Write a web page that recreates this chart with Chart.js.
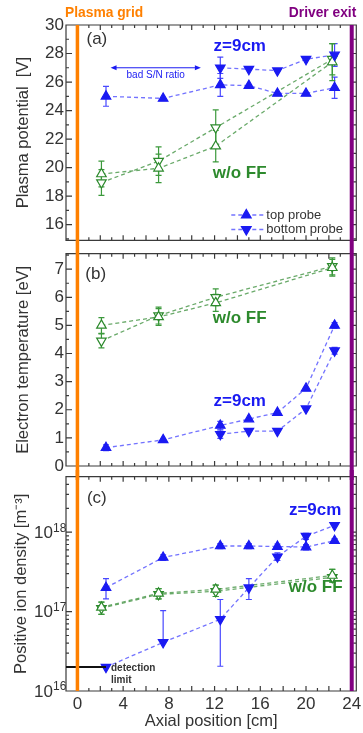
<!DOCTYPE html>
<html>
<head>
<meta charset="utf-8">
<script src="https://cdn.jsdelivr.net/npm/chart.js@4.4.1/dist/chart.umd.min.js"></script>
<style>
html,body{margin:0;padding:0;background:#fff;}
#wrap{position:relative;width:363px;height:733px;overflow:hidden;}
#wrap canvas{position:absolute;left:0;}
</style>
</head>
<body>
<div id="wrap">
  <canvas id="pa" width="363" height="247" style="top:0;width:363px;height:247px"></canvas>
  <canvas id="pb" width="363" height="233" style="top:247px;width:363px;height:233px"></canvas>
  <canvas id="pc" width="363" height="263" style="top:470px;width:363px;height:263px"></canvas>
</div>
<script>
'use strict';
// axial positions [cm]
const xProbe=[2.5,7.5,12.5,15,17.5,20,22.5];
const xProbeBottom=[12.5,15,17.5,20,22.5];
const xNoFF=[2.1,7.1,12.1,22.3];
const xTicks=[0,4,8,12,16,20,24];

// (a) plasma potential [V]
const potTop=[25.0,24.85,25.8,25.75,25.2,25.2,25.6];
const potTopErr=[0.7,0,0.8,0,0,0,0.75];
const potBottom=[27.0,26.9,26.8,27.6,27.9];
const potBottomErr=[0.75,0,0,0,0.8];
const potNoFFTop=[19.55,19.95,21.5,27.4];
const potNoFFTopErr=[0.9,1.0,1.1,1.3];
const potNoFFBottom=[18.95,20.45,22.8,27.6];
const potNoFFBottomErr=[0.9,1.0,1.25,1.1];
const potTicks=[16,18,20,22,24,26,28,30];

// (b) electron temperature [eV]
const teTop=[0.65,0.93,1.44,1.67,1.9,2.76,5.0];
const teTopErr=[0.1,0,0.15,0,0,0,0.1];
const teBottom=[1.13,1.24,1.24,2.04,4.1];
const teBottomErr=[0.15,0,0,0,0.12];
const teNoFFTop=[5.0,5.3,5.8,7.05];
const teNoFFTopErr=[0.28,0.3,0.3,0.3];
const teNoFFBottom=[4.45,5.35,6.0,7.1];
const teNoFFBottomErr=[0.25,0.3,0.3,0.3];
const teTicks=[0,1,2,3,4,5,6,7];

// (c) positive ion density [m^-3]
const niTop=[2.0e17,4.8e17,6.7e17,6.7e17,6.6e17,6.5e17,7.8e17];
const niTopLo=[1.45e17,4.4e17,6.2e17,6.2e17,6.1e17,6.0e17,7.3e17];
const niTopHi=[2.6e17,5.2e17,7.2e17,7.2e17,7.1e17,7.0e17,8.3e17];
const niBottom=[2.0e16,4.1e16,8.0e16,2.0e17,4.9e17,8.9e17,1.22e18];
const niBottomLo=[2.0e16,4.1e16,2.05e16,1.42e17,4.4e17,8.1e17,1.22e18];
const niBottomHi=[2.0e16,1.03e17,1.42e17,2.6e17,5.5e17,9.7e17,1.22e18];
const niNoFFTop=[1.13e17,1.7e17,1.9e17,2.85e17];
const niNoFFBottom=[1.1e17,1.65e17,1.8e17,2.7e17];
const niNoFFLo=[0.92e17,1.45e17,1.55e17,2.35e17];
const niNoFFHi=[1.32e17,1.95e17,2.15e17,3.4e17];
const niDecades=[16,17,18];
const detectionLimit=2e16;

const FONT='"Liberation Sans", Arial, sans-serif';
const INK='#333';
const BLUE='#1a1af2',GREEN='#2d8a2d',ORANGE='#ff8000',PURPLE='#800080';
const STY={
  blueUp:{line:'rgba(90,90,255,0.85)',fill:BLUE,stroke:BLUE,rot:0,err:'#4848ff'},
  blueDown:{line:'rgba(90,90,255,0.85)',fill:BLUE,stroke:BLUE,rot:180,err:'#4848ff'},
  greenUp:{line:'rgba(80,155,80,0.85)',fill:'#fff',stroke:GREEN,rot:0,err:'#3c9a3c'},
  greenDown:{line:'rgba(80,155,80,0.85)',fill:'#fff',stroke:GREEN,rot:180,err:'#3c9a3c'},
};
Chart.defaults.font.family=FONT;

function series(kind,xs,ys,lo,hi){
  const s=STY[kind];
  return {data:xs.map((x,i)=>({x,y:ys[i]})),showLine:true,borderColor:s.line,borderWidth:1.3,borderDash:[4,3],
    pointStyle:'triangle',pointRotation:s.rot,pointRadius:5.5,pointBackgroundColor:s.fill,pointBorderColor:s.stroke,
    pointBorderWidth:1.2,errLo:lo,errHi:hi,errColor:s.err};
}
const sym=(kind,xs,ys,err)=>series(kind,xs,ys,ys.map((v,i)=>v-err[i]),ys.map((v,i)=>v+err[i]));

function txt(ctx,s,x,y,font,color,align){
  ctx.save();ctx.font=font;ctx.fillStyle=color;ctx.textAlign=align||'center';ctx.textBaseline='middle';
  ctx.fillText(s,x,y);ctx.restore();
}
const isDecade=v=>Math.abs(Math.log10(v)-Math.round(Math.log10(v)))<1e-9;

const framePlugin={id:'frame',
  // error bars under the markers
  beforeDatasetsDraw(chart){
    const {ctx,scales:{x,y}}=chart;
    ctx.save();
    chart.data.datasets.forEach(ds=>{
      if(!ds.errLo)return;
      ctx.strokeStyle=ds.errColor;ctx.lineWidth=1.2;ctx.beginPath();
      ds.data.forEach((p,i)=>{
        const lo=ds.errLo[i],hi=ds.errHi[i];
        if(lo==null||lo===hi)return;
        const px=x.getPixelForValue(p.x),y1=y.getPixelForValue(lo),y2=y.getPixelForValue(hi);
        ctx.moveTo(px,y1);ctx.lineTo(px,y2);
        ctx.moveTo(px-3,y1);ctx.lineTo(px+3,y1);ctx.moveTo(px-3,y2);ctx.lineTo(px+3,y2);
      });
      ctx.stroke();
    });
    ctx.restore();
  },
  afterDraw(chart,args,o){
    const {ctx,chartArea:a,scales:{x,y}}=chart;
    ctx.save();
    ctx.setLineDash([]);ctx.globalAlpha=1;
    ctx.strokeStyle='#3a3a3a';ctx.lineWidth=1.2;
    ctx.beginPath();
    ctx.rect(a.left,a.top,a.right-a.left,a.bottom-a.top);
    for(let v=0;v<=24;v++){
      const px=x.getPixelForValue(v),l=v%2?3:5;
      ctx.moveTo(px,a.top);ctx.lineTo(px,a.top+l);ctx.moveTo(px,a.bottom);ctx.lineTo(px,a.bottom-l);
    }
    let marks;
    if(y.type==='logarithmic') marks=y.ticks.map(t=>({v:t.value,l:isDecade(t.value)?6:3}));
    else{
      const step=y.ticks[1].value-y.ticks[0].value;
      marks=[{v:y.ticks[0].value-step/2,l:3}];
      y.ticks.forEach(t=>{marks.push({v:t.value,l:6},{v:t.value+step/2,l:3});});
    }
    marks.filter(m=>m.v>=y.min&&m.v<=y.max).forEach(m=>{
      const py=y.getPixelForValue(m.v);
      ctx.moveTo(a.left,py);ctx.lineTo(a.left+m.l,py);ctx.moveTo(a.right,py);ctx.lineTo(a.right-m.l,py);
    });
    ctx.stroke();
    if(o.extraBefore)o.extraBefore(chart);
    const top=o.lineTop==='area'?a.top:0,bot=o.lineBottom==='area'?a.bottom:chart.height;
    [[0,ORANGE,3.5],[24,PURPLE,4]].forEach(([v,c,w])=>{
      const px=x.getPixelForValue(v);
      ctx.strokeStyle=c;ctx.lineWidth=w;ctx.beginPath();ctx.moveTo(px,top);ctx.lineTo(px,bot);ctx.stroke();
    });
    ctx.restore();
    (o.notes||[]).forEach(n=>txt(ctx,n.text,x.getPixelForValue(n.x),y.getPixelForValue(n.y),n.font,n.color));
    if(o.extra)o.extra(chart);
  }
};

const TITLE_FONT={family:FONT,size:16.5};
function yScale(extra){
  return Object.assign({
    afterFit:s=>{s.width=66;s.paddingTop=0;s.paddingBottom=0;},
    grid:{display:false,drawTicks:false},border:{display:false},
    ticks:{padding:2,font:{family:FONT,size:17},color:INK},
  },extra);
}
function xScale(show){
  return {type:'linear',min:-1,max:24.4,display:show,
    afterBuildTicks:s=>{s.ticks=xTicks.map(value=>({value}));},
    afterFit:s=>{if(show){s.height=42;}s.paddingLeft=0;s.paddingRight=0;},
    grid:{display:false,drawTicks:false},border:{display:false},
    ticks:{padding:3,font:{family:FONT,size:17},color:INK},
    title:{display:true,text:'Axial position [cm]',font:TITLE_FONT,color:INK,padding:{top:0,bottom:2}}};
}
function makeChart(id,datasets,padding,showX,y,frame){
  return new Chart(document.getElementById(id),{
    type:'scatter',
    data:{datasets},
    options:{responsive:false,animation:false,devicePixelRatio:1,layout:{padding},
      plugins:{legend:{display:false},tooltip:{enabled:false},frame},
      scales:{x:xScale(showX),y}},
    plugins:[framePlugin]
  });
}
const BOLD='bold 17px '+FONT, REG='17px '+FONT;

// (a)
makeChart('pa',[
  sym('blueUp',xProbe,potTop,potTopErr),
  sym('blueDown',xProbeBottom,potBottom,potBottomErr),
  sym('greenUp',xNoFF,potNoFFTop,potNoFFTopErr),
  sym('greenDown',xNoFF,potNoFFBottom,potNoFFBottomErr),
],{top:25,bottom:2,left:0,right:5},false,
yScale({min:14.9,max:30,afterBuildTicks:s=>{s.ticks=potTicks.map(value=>({value}));},
  title:{display:true,text:'Plasma potential  [V]',font:TITLE_FONT,color:INK,padding:{top:14,bottom:0}}}),
{lineTop:'area',lineBottom:'canvas',
 notes:[
  {text:'(a)',x:1.7,y:29.0,font:REG,color:INK},
  {text:'z=9cm',x:14.2,y:28.5,font:BOLD,color:BLUE},
  {text:'w/o FF',x:14.2,y:19.6,font:BOLD,color:GREEN},
  {text:'bad S/N ratio',x:6.85,y:26.5,font:'10px '+FONT,color:BLUE},
 ],
 extra(chart){
  const {ctx,chartArea:a,scales:{x,y}}=chart;
  txt(ctx,'Plasma grid',a.left-1,13,'bold 13.8px '+FONT,ORANGE,'left');
  txt(ctx,'Driver exit',a.right,13,'bold 13.8px '+FONT,PURPLE,'right');
  // S/N arrow
  const x1=x.getPixelForValue(2.9),x2=x.getPixelForValue(10.8),py=y.getPixelForValue(27.0);
  ctx.save();ctx.strokeStyle=BLUE;ctx.fillStyle=BLUE;ctx.lineWidth=1;
  ctx.beginPath();ctx.moveTo(x1+3,py);ctx.lineTo(x2-3,py);ctx.stroke();
  ctx.beginPath();ctx.moveTo(x1,py);ctx.lineTo(x1+6,py-2.5);ctx.lineTo(x1+6,py+2.5);ctx.closePath();ctx.fill();
  ctx.beginPath();ctx.moveTo(x2,py);ctx.lineTo(x2-6,py-2.5);ctx.lineTo(x2-6,py+2.5);ctx.closePath();ctx.fill();
  // legend
  [['top probe',0,215],['bottom probe',180,229.5]].forEach(([label,rot,ly])=>{
    const lx=a.right-125;
    ctx.strokeStyle=STY.blueUp.line;ctx.lineWidth=1.3;ctx.setLineDash([4,3]);
    ctx.beginPath();ctx.moveTo(lx,ly);ctx.lineTo(lx+32,ly);ctx.stroke();ctx.setLineDash([]);
    ctx.fillStyle=BLUE;ctx.strokeStyle=BLUE;
    Chart.helpers.drawPoint(ctx,{pointStyle:'triangle',rotation:rot,radius:5.5,borderWidth:1},lx+15,ly);
    txt(ctx,label,lx+35,ly,'13px '+FONT,INK,'left');
  });
  ctx.restore();
 }});

// (b)
makeChart('pb',[
  sym('blueUp',xProbe,teTop,teTopErr),
  sym('blueDown',xProbeBottom,teBottom,teBottomErr),
  sym('greenUp',xNoFF,teNoFFTop,teNoFFTopErr),
  sym('greenDown',xNoFF,teNoFFBottom,teNoFFBottomErr),
],{top:1,bottom:14,left:0,right:5},false,
yScale({min:0,max:7.55,afterBuildTicks:s=>{s.ticks=teTicks.map(value=>({value}));},
  title:{display:true,text:'Electron temperature [eV]',font:TITLE_FONT,color:INK,padding:{top:14,bottom:0}}}),
{lineTop:'canvas',lineBottom:'canvas',
 notes:[
  {text:'(b)',x:1.6,y:6.83,font:REG,color:INK},
  {text:'w/o FF',x:14.2,y:5.24,font:BOLD,color:GREEN},
  {text:'z=9cm',x:14.2,y:2.3,font:BOLD,color:BLUE},
 ]});

// (c)
makeChart('pc',[
  series('blueUp',xProbe,niTop,niTopLo,niTopHi),
  series('blueDown',xProbe,niBottom,niBottomLo,niBottomHi),
  series('greenUp',xNoFF,niNoFFTop,niNoFFLo,niNoFFHi),
  series('greenDown',xNoFF,niNoFFBottom,niNoFFLo,niNoFFHi),
],{top:2,bottom:0,left:0,right:5},true,
yScale({type:'logarithmic',min:1e16,max:5e18,
  afterBuildTicks:s=>{
    const t=[];
    niDecades.forEach(e=>{for(let m=1;m<10;m++){const v=m*Math.pow(10,e);if(v<=s.max)t.push({value:v});}});
    s.ticks=t;
  },
  ticks:{display:false},
  title:{display:true,text:'Positive ion density [m⁻³]',font:TITLE_FONT,color:INK,padding:{top:12,bottom:0}}}),
{lineTop:'canvas',lineBottom:'area',
 notes:[
  {text:'(c)',x:1.7,y:2.7e18,font:REG,color:INK},
  {text:'z=9cm',x:20.8,y:1.86e18,font:BOLD,color:BLUE},
  {text:'w/o FF',x:20.85,y:2.04e17,font:BOLD,color:GREEN},
 ],
 extraBefore(chart){
  const {ctx,chartArea:a,scales:{x,y}}=chart;
  const py=y.getPixelForValue(detectionLimit);
  ctx.save();ctx.strokeStyle='#111';ctx.lineWidth=2;
  ctx.beginPath();ctx.moveTo(a.left,py);ctx.lineTo(x.getPixelForValue(2.5),py);ctx.stroke();ctx.restore();
 },
 extra(chart){
  const {ctx,scales:{x,y}}=chart;
  const px=x.getPixelForValue(2.5)+5,py=y.getPixelForValue(detectionLimit);
  txt(ctx,'detection',px,py+1,'bold 10px '+FONT,INK,'left');
  txt(ctx,'limit',px,py+13,'bold 10px '+FONT,INK,'left');
  niDecades.forEach(e=>{
    const yy=y.getPixelForValue(Math.pow(10,e));
    txt(ctx,'10',53,yy+1,'17px '+FONT,INK,'right');
    txt(ctx,String(e),53,yy-4,'12px '+FONT,INK,'left');
  });
 }});
</script>
</body>
</html>
